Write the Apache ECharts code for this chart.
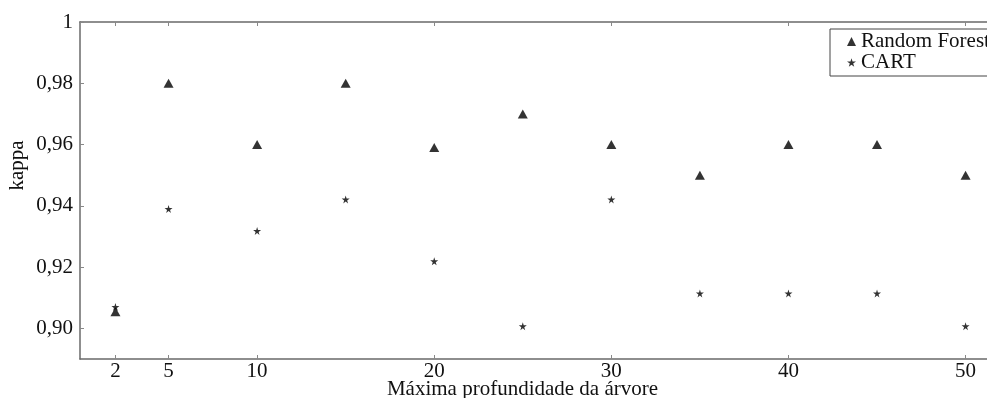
<!DOCTYPE html>
<html>
<head>
<meta charset="utf-8">
<script src="https://cdn.jsdelivr.net/npm/echarts@6/dist/echarts.min.js"></script>
<style>html,body{margin:0;padding:0;background:#fff}#c{width:987px;height:398px}</style>
</head>
<body>
<div id="c"></div>
<script>
const depths = [2, 5, 10, 15, 20, 25, 30, 35, 40, 45, 50];
const rfKappa = [0.9054, 0.980, 0.960, 0.980, 0.959, 0.970, 0.960, 0.950, 0.960, 0.960, 0.950];
const cartKappa = [0.907, 0.939, 0.9318, 0.9421, 0.9219, 0.9007, 0.9421, 0.9114, 0.9114, 0.9114, 0.9007];
const xTicks = [2, 5, 10, 20, 30, 40, 50];
const yTicks = [0.90, 0.92, 0.94, 0.96, 0.98, 1.0];
const seriesNames = ['Random Forest', 'CART'];
const xName = 'Máxima profundidade da árvore';
const yName = 'kappa';

const STAR = 'path://M50,0 L61,35 L98,35 L68,57 L79,91 L50,70 L21,91 L32,57 L2,35 L39,35 Z';
const FONT = 'Liberation Serif';
const axisCol = '#6a6a6a';
const FS = 21;

const chart = echarts.init(document.getElementById('c'), null, {renderer: 'canvas'});
const pairs = a => depths.map((d, i) => [d, a[i]]);

chart.setOption({
  animation: false,
  backgroundColor: '#fff',
  textStyle: {fontFamily: FONT, color: '#111'},
  grid: {left: 80, top: 22, bottom: 39, right: -14, show: false, outerBoundsMode: 'none', containLabel: false},
  legend: {
    orient: 'vertical', left: 830, top: 29,
    padding: [2, 8, 3, 17], itemGap: 0, itemWidth: 9, itemHeight: 9,
    borderColor: '#444', borderWidth: 1, backgroundColor: '#fff',
    textStyle: {fontFamily: FONT, fontSize: FS, color: '#111'},
    data: [
      {name: seriesNames[0], icon: 'triangle'},
      {name: seriesNames[1], icon: STAR}
    ]
  },
  xAxis: [{
    type: 'value', min: 0, max: 52, position: 'bottom',
    name: xName, nameLocation: 'middle', nameGap: 20, nameMoveOverlap: false,
    nameTextStyle: {fontFamily: FONT, fontSize: FS, color: '#111', padding: [0, 36, 0, 0]},
    axisLine: {show: true, lineStyle: {color: axisCol, width: 1.5}},
    axisTick: {show: true, inside: true, length: 4, customValues: xTicks, lineStyle: {color: '#888'}},
    axisLabel: {customValues: xTicks, fontFamily: FONT, fontSize: FS, color: '#111', margin: 2},
    splitLine: {show: false}
  }, {
    type: 'value', min: 0, max: 52, position: 'top',
    axisLine: {show: true, lineStyle: {color: axisCol, width: 1.5}},
    axisTick: {show: true, inside: true, length: 4, customValues: xTicks, lineStyle: {color: '#888'}},
    axisLabel: {show: false},
    splitLine: {show: false}
  }],
  yAxis: {
    type: 'value', min: 0.89, max: 1.0,
    name: yName, nameLocation: 'middle', nameGap: 52, nameRotate: 90, nameMoveOverlap: false,
    nameTextStyle: {fontFamily: FONT, fontSize: FS, color: '#111', padding: [0, 0, 0, 50]},
    axisLine: {show: true, lineStyle: {color: axisCol, width: 1.5}},
    axisTick: {show: true, inside: true, length: 4, customValues: yTicks, lineStyle: {color: '#888'}},
    axisLabel: {
      customValues: yTicks, fontFamily: FONT, fontSize: FS, color: '#111', margin: 7,
      formatter: v => Math.abs(v - 1) < 1e-9 ? '1' : v.toFixed(2).replace('.', ',')
    },
    splitLine: {show: false}
  },
  series: [{
    name: seriesNames[0], type: 'scatter', data: pairs(rfKappa),
    symbol: 'triangle', symbolSize: [10, 9], itemStyle: {color: '#000'}, z: 2
  }, {
    name: seriesNames[1], type: 'scatter', data: pairs(cartKappa),
    symbol: STAR, symbolSize: 8, itemStyle: {color: '#000'}, z: 3
  }]
});
</script>
</body>
</html>
